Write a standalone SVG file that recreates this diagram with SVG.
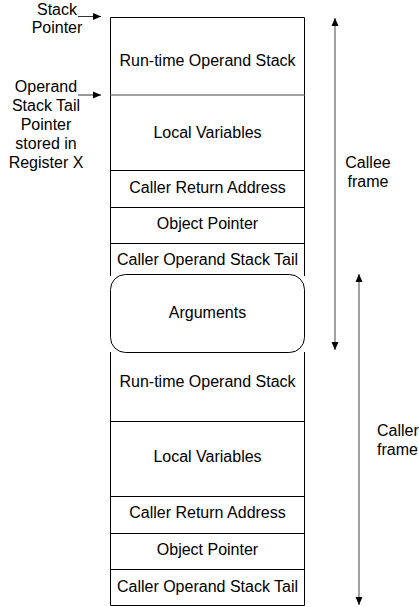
<svg xmlns="http://www.w3.org/2000/svg" width="419" height="607" viewBox="0 0 419 607">
<style>
text{font-family:"Liberation Sans",Arial,sans-serif;font-size:16px;fill:#000}
.c{text-anchor:middle}
.box{fill:#fff;stroke:#000;stroke-width:1}
.div{stroke:#000;stroke-width:1}
.gdiv{stroke:#808080;stroke-width:1.5}
.ptr{stroke:#333;stroke-width:1;fill:none}
.span{stroke:#808080;stroke-width:1.5;fill:none}
</style>
<defs>
<marker id="ah" viewBox="0 0 8 8" refX="8" refY="4" markerWidth="8" markerHeight="8" markerUnits="userSpaceOnUse" orient="auto-start-reverse">
<path d="M0,0.5 L8,4 L0,7.5 Z" fill="#000"/>
</marker>
</defs>
<g id="stack">
<line class="div" x1="110.5" y1="17.5" x2="110.5" y2="276"/>
<line class="div" x1="304.5" y1="17.5" x2="304.5" y2="276"/>
<line class="div" x1="110.5" y1="352" x2="110.5" y2="605.5"/>
<line class="div" x1="304.5" y1="352" x2="304.5" y2="605.5"/>
<line class="div" x1="110.5" y1="17.5" x2="304.5" y2="17.5"/>
<line class="div" x1="110.5" y1="605.5" x2="304.5" y2="605.5"/>
</g>
<g id="callee-operand-stack"><text class="c" x="207.5" y="66">Run-time Operand Stack</text></g>
<g id="callee-locals"><line class="gdiv" x1="110.5" y1="95" x2="304.5" y2="95"/><text class="c" x="207.5" y="138">Local Variables</text></g>
<g id="callee-return"><line class="div" x1="110.5" y1="170.5" x2="304.5" y2="170.5"/><text class="c" x="207.5" y="193">Caller Return Address</text></g>
<g id="callee-object"><line class="div" x1="110.5" y1="207.5" x2="304.5" y2="207.5"/><text class="c" x="207.5" y="229">Object Pointer</text></g>
<g id="callee-tail"><line class="div" x1="110.5" y1="243.5" x2="304.5" y2="243.5"/><text class="c" x="207.5" y="265">Caller Operand Stack Tail</text></g>
<g id="arguments"><rect class="box" x="110.5" y="274.5" width="194" height="78" rx="15" ry="15"/><text class="c" x="207.5" y="318">Arguments</text></g>
<g id="caller-operand-stack"><text class="c" x="207.5" y="387">Run-time Operand Stack</text></g>
<g id="caller-locals"><line class="div" x1="110.5" y1="421.5" x2="304.5" y2="421.5"/><text class="c" x="207.5" y="462">Local Variables</text></g>
<g id="caller-return"><line class="div" x1="110.5" y1="496.5" x2="304.5" y2="496.5"/><text class="c" x="207.5" y="518">Caller Return Address</text></g>
<g id="caller-object"><line class="div" x1="110.5" y1="533.5" x2="304.5" y2="533.5"/><text class="c" x="207.5" y="555">Object Pointer</text></g>
<g id="caller-tail"><line class="div" x1="110.5" y1="569.5" x2="304.5" y2="569.5"/><text class="c" x="207.5" y="592">Caller Operand Stack Tail</text></g>
<g id="stack-pointer-label"><text class="c" x="57" y="15">Stack</text><text class="c" x="57" y="33">Pointer</text></g>
<g id="tail-pointer-label"><text class="c" x="46" y="92">Operand</text><text class="c" x="46" y="111">Stack Tail</text><text class="c" x="46" y="130">Pointer</text><text class="c" x="46" y="149">stored in</text><text class="c" x="46" y="168">Register X</text></g>
<g id="callee-frame-label"><text class="c" x="368" y="168">Callee</text><text class="c" x="368" y="187">frame</text></g>
<g id="caller-frame-label"><text x="377" y="436">Caller</text><text x="377" y="455">frame</text></g>
<g id="connectors">
<line class="ptr" x1="78" y1="16.5" x2="101" y2="16.5" marker-end="url(#ah)"/>
<line class="ptr" x1="78" y1="95" x2="101" y2="95" marker-end="url(#ah)"/>
<line class="span" x1="335" y1="18" x2="335" y2="350" marker-start="url(#ah)" marker-end="url(#ah)"/>
<line class="span" x1="359" y1="274" x2="359" y2="605" marker-start="url(#ah)" marker-end="url(#ah)"/>
</g>
</svg>
